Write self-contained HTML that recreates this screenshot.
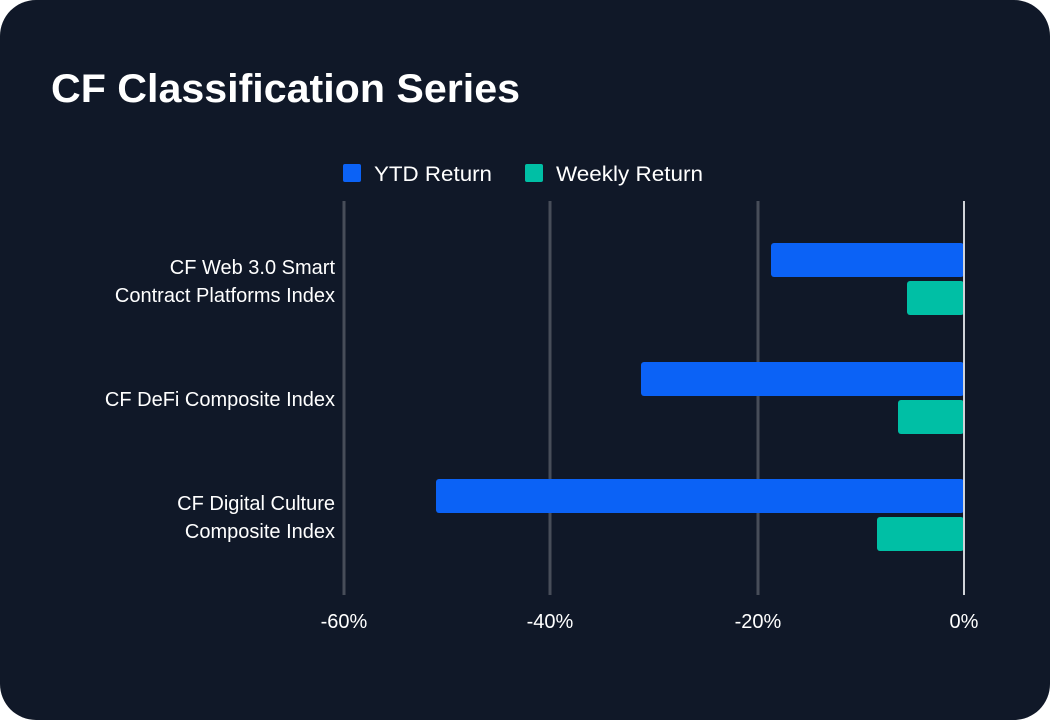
<!DOCTYPE html>
<html><head><meta charset="utf-8"><style>
html,body{margin:0;padding:0;background:#fff;}
</style></head><body>
<svg width="1050" height="720" xmlns="http://www.w3.org/2000/svg" font-family="Liberation Sans, sans-serif">
<rect x="0" y="0" width="1050" height="720" rx="36" fill="#101828"/>
<text x="51" y="102" font-size="40" font-weight="bold" fill="#fff" textLength="469" lengthAdjust="spacingAndGlyphs">CF Classification Series</text>
<rect x="343" y="164" width="18" height="18" rx="2" fill="#0b62f6"/>
<text x="374" y="181" font-size="21" fill="#fff" textLength="118" lengthAdjust="spacingAndGlyphs">YTD Return</text>
<rect x="525" y="164" width="18" height="18" rx="2" fill="#00bfa5"/>
<text x="556" y="181" font-size="21" fill="#fff" textLength="147" lengthAdjust="spacingAndGlyphs">Weekly Return</text>
<g stroke="#474d59" stroke-width="3">
<line x1="344" y1="201" x2="344" y2="595"/>
<line x1="550" y1="201" x2="550" y2="595"/>
<line x1="758" y1="201" x2="758" y2="595"/>
</g>
<g fill="#0b62f6">
<rect x="771" y="243" width="193" height="34" rx="3"/>
<rect x="641" y="362" width="323" height="34" rx="3"/>
<rect x="436" y="479" width="528" height="34" rx="3"/>
</g>
<g fill="#00bfa5">
<rect x="907" y="281" width="57" height="34" rx="3"/>
<rect x="898" y="400" width="66" height="34" rx="3"/>
<rect x="877" y="517" width="87" height="34" rx="3"/>
</g>
<line x1="964" y1="201" x2="964" y2="595" stroke="#d0d3d8" stroke-width="2"/>
<g font-size="20" fill="#fff" text-anchor="end">
<text x="335" y="274">CF Web 3.0 Smart</text>
<text x="335" y="302">Contract Platforms Index</text>
<text x="335" y="406">CF DeFi Composite Index</text>
<text x="335" y="510">CF Digital Culture</text>
<text x="335" y="538">Composite Index</text>
</g>
<g font-size="20" fill="#fff" text-anchor="middle">
<text x="344" y="628">-60%</text>
<text x="550" y="628">-40%</text>
<text x="758" y="628">-20%</text>
<text x="964" y="628">0%</text>
</g>
</svg>
</body></html>
